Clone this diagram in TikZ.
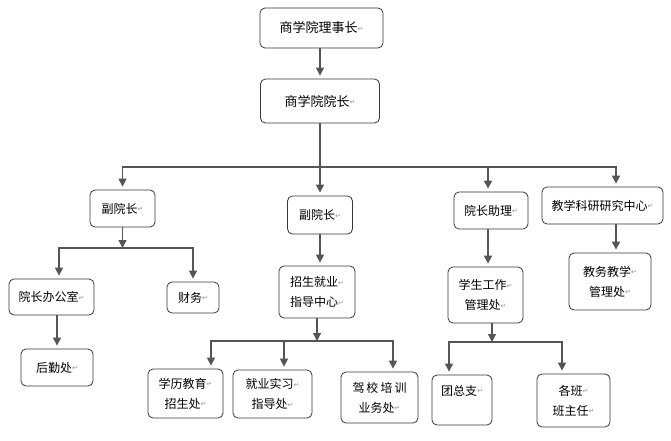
\documentclass[tikz,border=0pt]{standalone}
\usepackage{fontspec}
\setmainfont{Noto Sans CJK SC}
\newfontfamily\symfont{DejaVu Sans}
\usetikzlibrary{positioning}
\usetikzlibrary{arrows.meta}
\definecolor{linegray}{RGB}{85,85,85}
\definecolor{boxgray}{RGB}{55,55,55}
\definecolor{retgray}{RGB}{150,150,150}
\newcommand{\ret}{\raisebox{1.5pt}{\symfont\color{retgray}\fontsize{7pt}{7pt}\selectfont ↵}}

\begin{document}
\begin{tikzpicture}[x=1pt, y=-1pt, >={Triangle[length=8pt,width=8pt]},
blk/.style={draw=boxgray, line width=0.8pt, rounded corners=5pt, fill=white, align=center, inner sep=0pt, font=\fontsize{12pt}{20pt}\selectfont},
arr/.style={->, draw=linegray, line width=1.2pt, shorten >=3pt},
bus/.style={draw=linegray, line width=1.2pt}]
\useasboundingbox (0,0) rectangle (671,441);

% top
\node[blk, minimum width=123pt, minimum height=40pt, font=\fontsize{13pt}{20pt}\selectfont] (chair) at (321.5,28) {商学院理事长\ret};
\node[blk, minimum width=119pt, minimum height=44pt, font=\fontsize{13pt}{20pt}\selectfont] (dean) at (320,101) {商学院院长\ret};

% second row
\node[blk, minimum width=65pt, minimum height=37pt] (vp1) at (122.5,208.5) {副院长\ret};
\node[blk, minimum width=65pt, minimum height=38pt] (vp2) at (320,215) {副院长\ret};
\node[blk, minimum width=74pt, minimum height=37pt] (asst) at (491,210.5) {院长助理\ret};
\node[blk, minimum width=121pt, minimum height=37pt] (research) at (602.5,205.5) {教学科研研究中心\ret};

% left branch
\node[blk, minimum width=85pt, minimum height=36pt] (office) at (51.5,297) {院长办公室\ret};
\node[blk, minimum width=52pt, minimum height=31pt] (finance) at (193,297.5) {财务\ret};
\node[blk, minimum width=72pt, minimum height=37pt] (logistics) at (57,367.5) {后勤处\ret};

% middle branch
\node[blk, minimum width=76pt, minimum height=52pt] (enroll) at (317,292) {招生就业\ret\\指导中心\ret};
\node[blk, minimum width=75pt, minimum height=49pt] (degree) at (185.5,393.5) {学历教育\ret\\招生处\ret};
\node[blk, minimum width=79pt, minimum height=48pt] (intern) at (272.5,394) {就业实习\ret\\指导处\ret};
\node[blk, minimum width=77pt, minimum height=51pt] (driving) at (379.5,397.5) {驾\,校\,培\,训\\业务处\ret};

% right branch
\node[blk, minimum width=75pt, minimum height=56pt] (student) at (485.5,295) {学生工作\ret\\管理处\ret};
\node[blk, minimum width=60pt, minimum height=50pt] (league) at (462,400) {团总支\ret\\\mbox{}};
\node[blk, minimum width=73pt, minimum height=53pt] (classes) at (573.5,400.5) {各班\ret\\班主任\ret};
\node[blk, minimum width=82pt, minimum height=57pt] (academic) at (610,281.5) {教务教学\ret\\管理处\ret};

% bus junctions
\coordinate (topbus) at (320,167);
\coordinate (lbus) at (122.5,248);
\coordinate (mbus) at (317,341);
\coordinate (rbus) at (492,342);

% connectors
\draw[arr] (chair.south -| dean.north) -- (dean.north);
\draw[bus] (dean.south) -- (topbus);
\draw[arr] (topbus) -| (vp1.north);
\draw[arr] (topbus) -- (vp2.north);
\draw[arr] (topbus) -| ([xshift=-3pt]asst.north);
\draw[arr] (topbus) -| ([xshift=13.5pt]research.north);

\draw[arr, shorten >=0pt] (vp1.south) -- (lbus);
\draw[arr] (lbus) -| ([xshift=7.5pt]office.north);
\draw[arr] (lbus) -| (finance.north);
\draw[arr] (office.south -| logistics.north) -- (logistics.north);

\draw[arr] (vp2.south) -- (vp2.south |- enroll.north);
\draw[arr, shorten >=0pt] (enroll.south) -- (mbus);
\draw[arr] (mbus) -| ([xshift=25.5pt]degree.north);
\draw[arr] (mbus) -| ([xshift=11.5pt]intern.north);
\draw[arr] (mbus) -| ([xshift=13.5pt]driving.north);

\draw[arr] ([xshift=-3pt]asst.south) -- ([xshift=-3pt]asst.south |- student.north);
\draw[arr, shorten >=0pt] (student.south -| rbus) -- (rbus);
\draw[arr] (rbus) -| ([xshift=-13pt]league.north);
\draw[arr] (rbus) -| ([xshift=-11.5pt]classes.north);
\draw[arr] ([xshift=13.5pt]research.south) -- ([xshift=13.5pt]research.south |- academic.north);
\end{tikzpicture}
\end{document}
